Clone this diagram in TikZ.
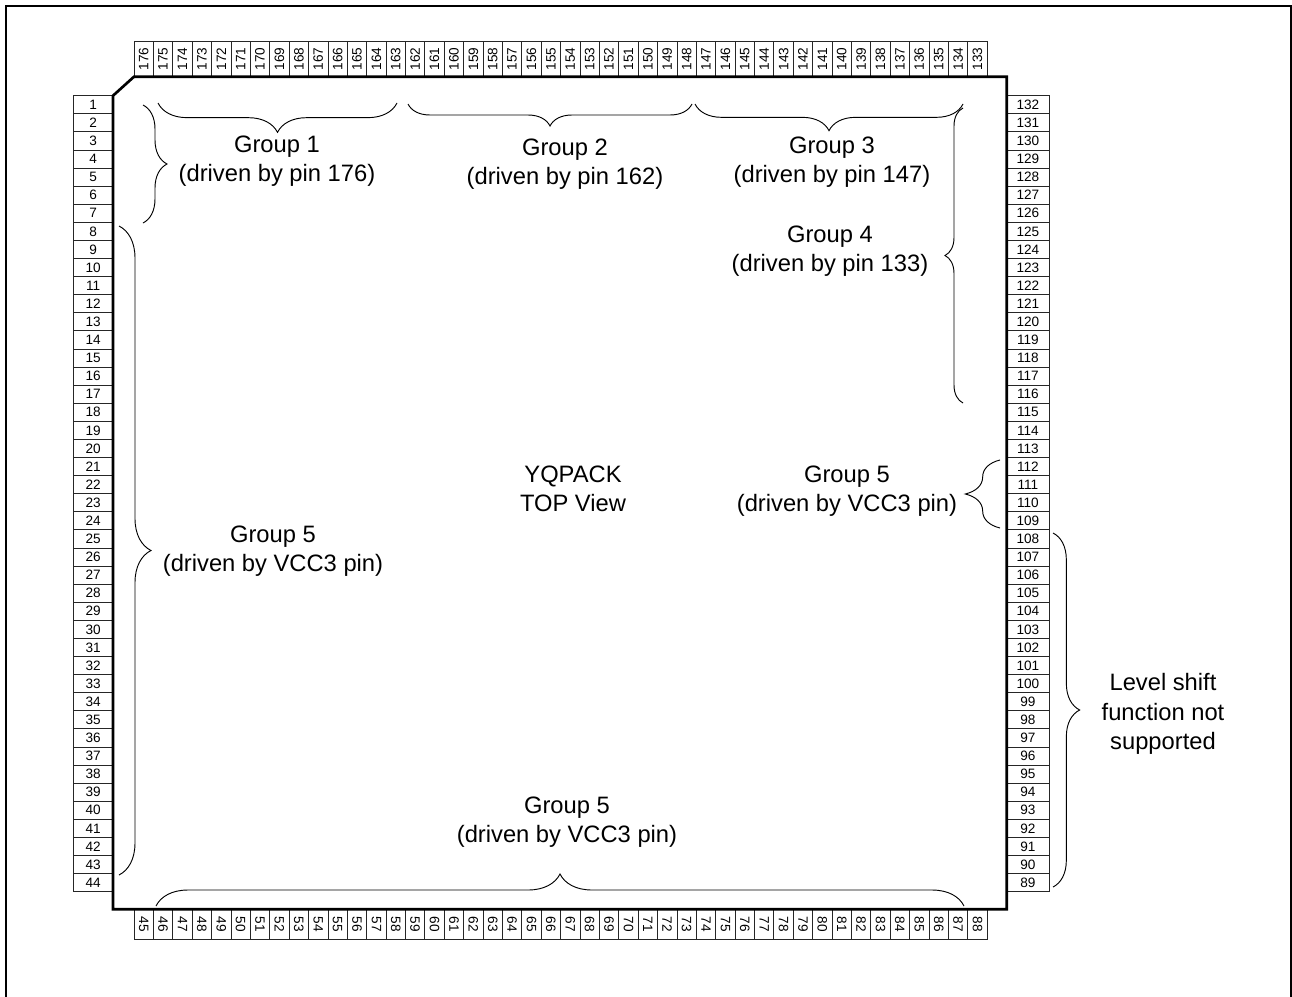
\documentclass[tikz,border=0pt]{standalone}
\usepackage{fontspec}
\setmainfont{Liberation Sans}
\usetikzlibrary{decorations.pathreplacing}

\begin{document}
\begin{tikzpicture}[x=0.75pt, y=-0.75pt,
    pinbox/.style={draw=black!85, line width=0.6pt, inner sep=0pt, font=\fontsize{10.2}{12}\selectfont},
    pinL/.style={pinbox, minimum width=29.8pt, minimum height=13.57pt},
    pinR/.style={pinbox, minimum width=31.7pt, minimum height=13.57pt},
    pinT/.style={pinbox, rotate=90, minimum width=26.25pt, minimum height=14.54pt},
    pinB/.style={pinbox, rotate=-90, minimum width=22.5pt, minimum height=14.54pt},
    grp/.style={align=center, font=\fontsize{17.8}{22}\selectfont},
    curly/.style={decorate, decoration={brace, amplitude=#1}, line width=0.7pt}]
    \useasboundingbox (0,0) rectangle (1292,996);
    % frame, open at the bottom
    \draw[line width=1.6pt] (6,1000) -- (6,6) -- (1291,6) -- (1291,1000);
    % pins: left 1-44, right 132-89, top 176-133, bottom 45-88
    \foreach \i in {1,...,44} {
        \pgfmathtruncatemacro{\rn}{133-\i}
        \pgfmathtruncatemacro{\tn}{177-\i}
        \pgfmathtruncatemacro{\bn}{44+\i}
        \node[pinL] (p\i) at (93.2, {86.655+18.09*\i}) {\i};
        \node[pinR] (p\rn) at (1027.85, {86.655+18.09*\i}) {\rn};
        \node[pinT] (p\tn) at ({124.305+19.39*\i}, 59.2) {\tn};
        \node[pinB] (p\bn) at ({124.305+19.39*\i}, 924.3) {\bn};
    }
    % package body, corner cut at pin 1
    \draw[line width=2pt] (134,76.7) -- (1006.7,76.7) -- (1006.7,909.3) -- (113,909.3) -- (113,95.7) -- cycle;
    \node[grp] (chip) at (573,489) {YQPACK\\TOP View};
    % brace ends
    \coordinate (g1l) at (158,103);   \coordinate (g1r) at (397,103);
    \coordinate (g2l) at (408,104);   \coordinate (g2r) at (692,104);
    \coordinate (g3l) at (695,104);   \coordinate (g3r) at (963,104);
    \coordinate (g1t) at (143,105);   \coordinate (g1d) at (143,223);
    \coordinate (g4t) at (963,108);   \coordinate (g4d) at (963,403);
    \coordinate (g5t) at (1000,460);  \coordinate (g5d) at (1000,528);
    \coordinate (lvt) at (1053,533);  \coordinate (lvd) at (1053,887);
    \coordinate (g6t) at (119,226);   \coordinate (g6d) at (119,875);
    \coordinate (g7l) at (156,906);   \coordinate (g7r) at (964,906);
    \draw[curly=22pt] (g1r) -- (g1l);
    \draw[curly=16.5pt] (g2r) -- (g2l);
    \draw[curly=20pt] (g3r) -- (g3l);
    \draw[curly=18pt] (g1t) -- (g1d);
    \draw[curly=13.5pt] (g4d) -- (g4t);
    \draw[curly=26pt] (g5d) -- (g5t);
    \draw[curly=20pt] (lvt) -- (lvd);
    \draw[curly=24pt] (g6t) -- (g6d);
    \draw[curly=24pt] (g7l) -- (g7r);
    % group labels
    \node[grp] (grp1) at (277,161) {Group 1\\(driven by pin 176)};
    \node[grp] (grp2) at (565,164) {Group 2\\(driven by pin 162)};
    \node[grp] (grp3) at (832,162) {Group 3\\(driven by pin 147)};
    \node[grp] (grp4) at (830,251) {Group 4\\(driven by pin 133)};
    \node[grp] (grp5r) at (847,491) {Group 5\\(driven by VCC3 pin)};
    \node[grp] (grp5l) at (273,551) {Group 5\\(driven by VCC3 pin)};
    \node[grp] (grp5b) at (567,822) {Group 5\\(driven by VCC3 pin)};
    \node[grp] (level) at (1163,714) {Level shift\\function not\\supported};
\end{tikzpicture}
\end{document}
